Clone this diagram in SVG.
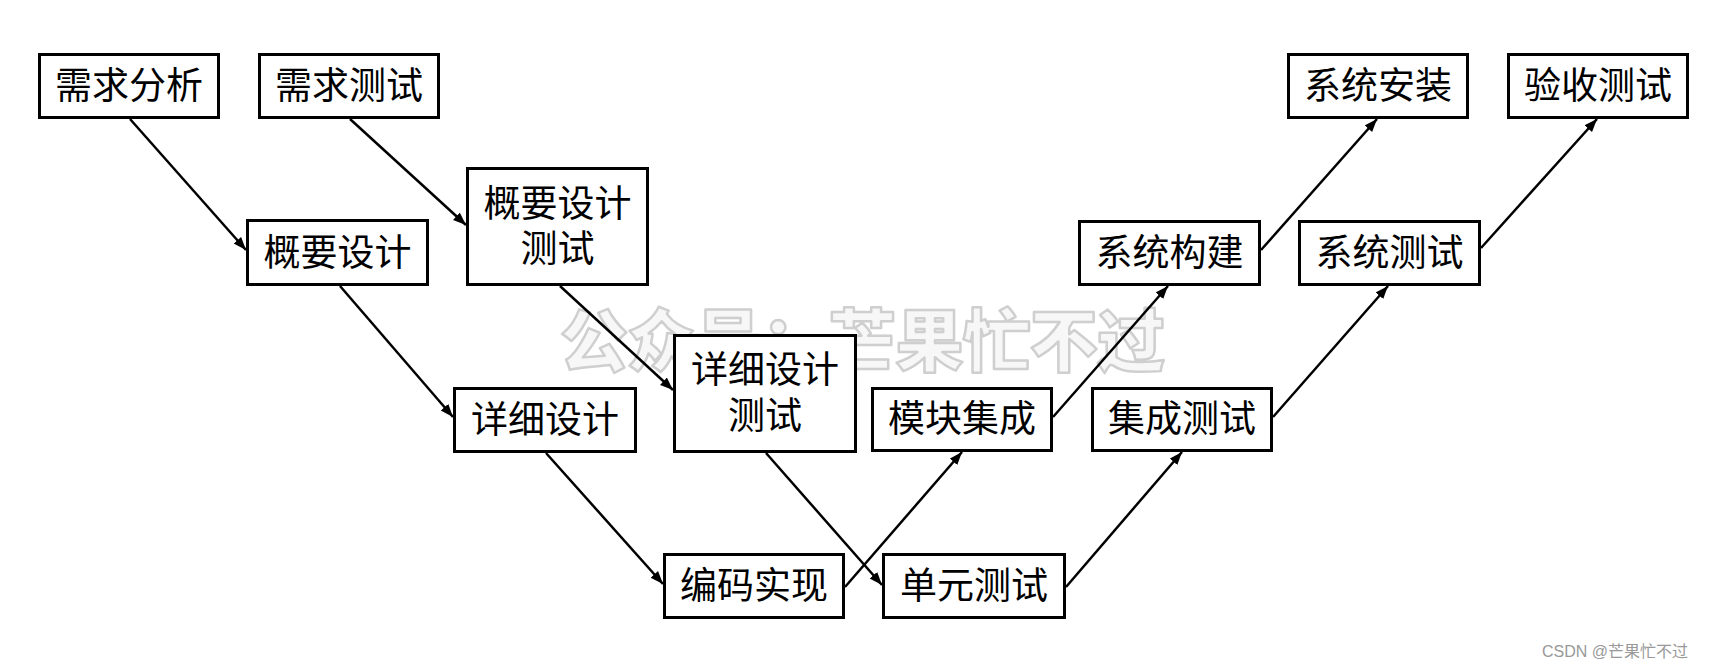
<svg xmlns="http://www.w3.org/2000/svg" width="1727" height="672" viewBox="0 0 1727 672">
<style>
.box{fill:#fff;stroke:#000;stroke-width:3}
.lbl{font-family:"Microsoft YaHei","Noto Sans CJK SC",sans-serif;font-size:37px;fill:#000;text-anchor:middle}
.edge{stroke:#000;stroke-width:2.5;fill:none;marker-end:url(#ah)}
.wm{font-family:"Noto Sans CJK SC",sans-serif;font-weight:900;font-size:68px;fill:#f7f7f7;stroke:#cfcfcf;stroke-width:2.5;stroke-linejoin:round}
</style>
<defs>
<marker id="ah" markerUnits="userSpaceOnUse" markerWidth="14" markerHeight="12" refX="13" refY="5" orient="auto">
<path d="M0,0 L13,5 L0,10 z" fill="#000"/>
</marker>
</defs>
<rect width="1727" height="672" fill="#fff"/>
<text class="wm" x="560" y="366" textLength="605" lengthAdjust="spacing">公众号：芒果忙不过</text>
<g id="connectors">
<line class="edge" x1="130" y1="119" x2="246" y2="250"/>
<line class="edge" x1="350" y1="119" x2="466" y2="225"/>
<line class="edge" x1="340" y1="286" x2="453" y2="417"/>
<line class="edge" x1="560" y1="286" x2="673" y2="390"/>
<line class="edge" x1="546" y1="453" x2="663" y2="584"/>
<line class="edge" x1="766" y1="453" x2="882" y2="585"/>
<line class="edge" x1="845" y1="587" x2="962" y2="452"/>
<line class="edge" x1="1066" y1="587" x2="1182" y2="452"/>
<line class="edge" x1="1053" y1="417" x2="1168" y2="286"/>
<line class="edge" x1="1273" y1="417" x2="1388" y2="286"/>
<line class="edge" x1="1261" y1="250" x2="1377" y2="119"/>
<line class="edge" x1="1481" y1="248" x2="1597" y2="119"/>
</g>
<g id="n1"><rect class="box" x="39.5" y="54.5" width="179" height="63"/><text class="lbl" x="129" y="99">需求分析</text></g>
<g id="n2"><rect class="box" x="259.5" y="54.5" width="179" height="63"/><text class="lbl" x="349" y="99">需求测试</text></g>
<g id="n3"><rect class="box" x="247.5" y="220.5" width="180" height="64"/><text class="lbl" x="337.5" y="266">概要设计</text></g>
<g id="n4"><rect class="box" x="467.5" y="168.5" width="180" height="116"/><text class="lbl"><tspan x="557.5" y="217">概要设计</tspan><tspan x="557.5" y="262">测试</tspan></text></g>
<g id="n5"><rect class="box" x="454.5" y="388.5" width="181" height="63"/><text class="lbl" x="545" y="433">详细设计</text></g>
<g id="n6"><rect class="box" x="674.5" y="335.5" width="181" height="116"/><text class="lbl"><tspan x="765" y="383">详细设计</tspan><tspan x="765" y="429">测试</tspan></text></g>
<g id="n7"><rect class="box" x="664.5" y="554.5" width="179" height="63"/><text class="lbl" x="754" y="599">编码实现</text></g>
<g id="n8"><rect class="box" x="883.5" y="554.5" width="181" height="63"/><text class="lbl" x="974" y="599">单元测试</text></g>
<g id="n9"><rect class="box" x="872.5" y="388.5" width="179" height="62"/><text class="lbl" x="962" y="432">模块集成</text></g>
<g id="n10"><rect class="box" x="1092.5" y="388.5" width="179" height="62"/><text class="lbl" x="1182" y="432">集成测试</text></g>
<g id="n11"><rect class="box" x="1079.5" y="221.5" width="180" height="63"/><text class="lbl" x="1169.5" y="266">系统构建</text></g>
<g id="n12"><rect class="box" x="1299.5" y="221.5" width="180" height="63"/><text class="lbl" x="1389.5" y="266">系统测试</text></g>
<g id="n13"><rect class="box" x="1288.5" y="54.5" width="179" height="63"/><text class="lbl" x="1378" y="99">系统安装</text></g>
<g id="n14"><rect class="box" x="1508.5" y="54.5" width="179" height="63"/><text class="lbl" x="1598" y="99">验收测试</text></g>
<text x="1542" y="657" font-family="Liberation Sans, Noto Sans CJK SC, sans-serif" font-size="16" fill="#999">CSDN @芒果忙不过</text>
</svg>
